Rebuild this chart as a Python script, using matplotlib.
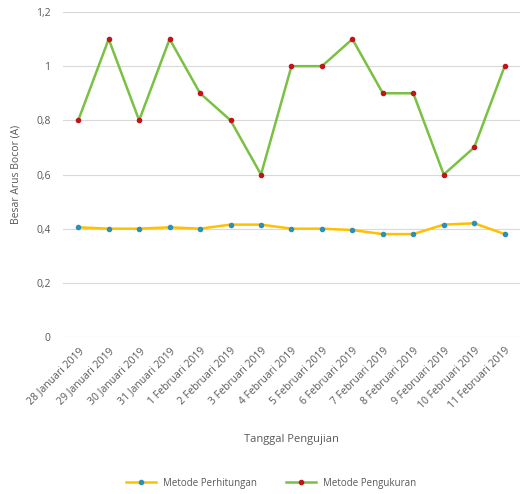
import matplotlib
matplotlib.use('Agg')
import matplotlib.pyplot as plt

matplotlib.rcParams.update({'font.family': ['Open Sans', 'DejaVu Sans'], 'font.size': 7})

tanggal = ['28 Januari 2019', '29 Januari 2019', '30 Januari 2019', '31 Januari 2019',
           '1 Februari 2019', '2 Februari 2019', '3 Februari 2019', '4 Februari 2019',
           '5 Februari 2019', '6 Februari 2019', '7 Februari 2019', '8 Februari 2019',
           '9 Februari 2019', '10 Februari 2019', '11 Februari 2019']
perhitungan = [0.405, 0.40, 0.40, 0.405, 0.40, 0.415, 0.415, 0.40, 0.40, 0.395, 0.38, 0.38, 0.415, 0.42, 0.38]
pengukuran = [0.8, 1.1, 0.8, 1.1, 0.9, 0.8, 0.6, 1.0, 1.0, 1.1, 0.9, 0.9, 0.6, 0.7, 1.0]
yticks = [0, 0.2, 0.4, 0.6, 0.8, 1.0, 1.2]
ylabels = ['0', '0,2', '0,4', '0,6', '0,8', '1', '1,2']

txt = '#595959'
fig = plt.figure(figsize=(5.22, 4.94), dpi=100)
ax = fig.add_axes([0.1207, 0.3178, 0.8753, 0.6579])

x = list(range(len(tanggal)))
ax.plot(x, perhitungan, color='#ffc000', linewidth=1.8, marker='o', markersize=3,
        markerfacecolor='#2f8fb5', markeredgecolor='#2f8fb5', label='Metode Perhitungan', zorder=3)
ax.plot(x, pengukuran, color='#7ac143', linewidth=1.8, marker='o', markersize=3,
        markerfacecolor='#c0141c', markeredgecolor='#c0141c', label='Metode Pengukuran', zorder=3)

ax.set_xlim(-0.5, len(tanggal) - 0.5)
ax.set_ylim(0, 1.2)
ax.set_yticks(yticks)
ax.set_yticklabels(ylabels)
ax.set_xticks(x)
ax.set_xticklabels(tanggal, rotation=45, ha='right', rotation_mode='anchor')
ax.grid(axis='y', color='#d9d9d9', linewidth=0.8)
ax.set_axisbelow(True)
for s in ax.spines.values():
    s.set_visible(False)
ax.tick_params(length=0, colors=txt, labelsize=7.5)
ax.tick_params(axis='y', pad=9)
ax.tick_params(axis='x', pad=6)

ax.set_ylabel('Besar Arus Bocor (A)', color=txt, fontsize=7.5, labelpad=10)
ax.set_xlabel('Tanggal Pengujian', color=txt, fontsize=8, labelpad=16)

fig.legend(loc='center', bbox_to_anchor=(0.52, 0.022), ncol=2, frameon=False,
           fontsize=7, labelcolor=txt, handlelength=3, columnspacing=3)

plt.savefig('out.png', dpi=100)
